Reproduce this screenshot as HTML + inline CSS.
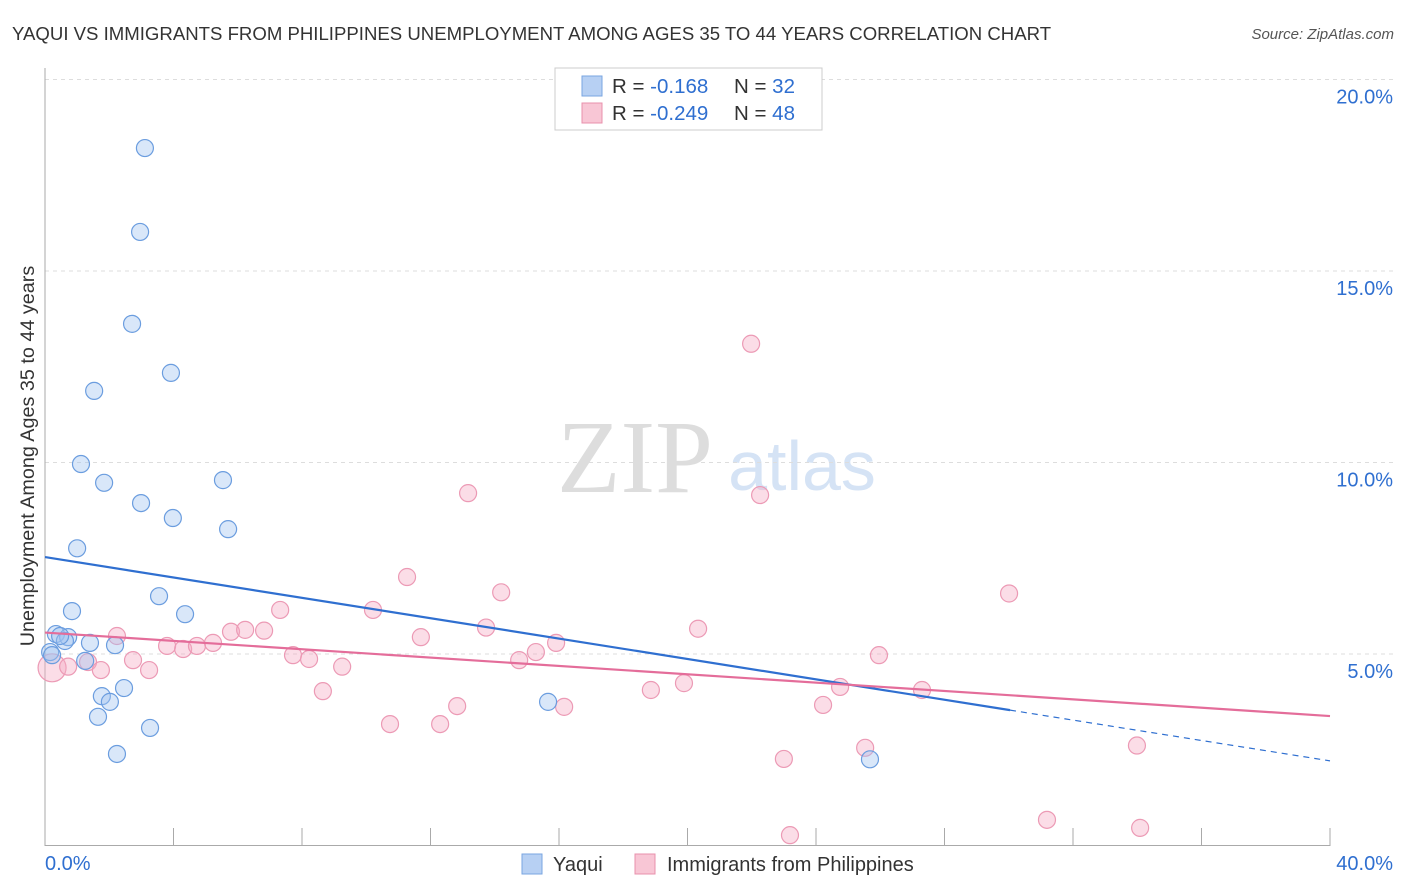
<!DOCTYPE html>
<html><head><meta charset="utf-8"><style>
body{margin:0;background:#fff;font-family:"Liberation Sans",sans-serif;}
svg{display:block}
</style></head><body>
<svg id="chart" width="1406" height="892">
<text x="12" y="40" font-size="18.6" fill="#333">YAQUI VS IMMIGRANTS FROM PHILIPPINES UNEMPLOYMENT AMONG AGES 35 TO 44 YEARS CORRELATION CHART</text>
<text x="1394" y="39" font-size="15" fill="#555" font-style="italic" text-anchor="end">Source: ZipAtlas.com</text>
<text x="635" y="492" font-size="104" fill="#ddd" font-family="Liberation Serif,serif" text-anchor="middle">ZIP</text>
<text x="802" y="490" font-size="70" fill="#d5e3f5" text-anchor="middle">atlas</text>
<text transform="translate(34,456) rotate(-90)" font-size="19.8" fill="#333" text-anchor="middle">Unemployment Among Ages 35 to 44 years</text>
<g id="grid"></g><g id="marks"></g><g id="lines"></g>
<g>
<rect x="555" y="68" width="267" height="62" fill="#fff" stroke="#ccc"/>
<rect x="582" y="76" width="20" height="20" fill="#b7d0f3" stroke="#7aa6e0"/>
<rect x="582" y="103" width="20" height="20" fill="#f8c6d5" stroke="#e890ac"/>
<text x="612" y="93" font-size="20.5" fill="#333">R = <tspan fill="#2f6fd0">-0.168</tspan></text>
<text x="734" y="93" font-size="20.5" fill="#333">N = <tspan fill="#2f6fd0">32</tspan></text>
<text x="612" y="120" font-size="20.5" fill="#333">R = <tspan fill="#2f6fd0">-0.249</tspan></text>
<text x="734" y="120" font-size="20.5" fill="#333">N = <tspan fill="#2f6fd0">48</tspan></text>
</g>
<g>
<rect x="522" y="854" width="20" height="20" fill="#b7d0f3" stroke="#7aa6e0"/>
<text x="553" y="871" font-size="20" fill="#333">Yaqui</text>
<rect x="635" y="854" width="20" height="20" fill="#f8c6d5" stroke="#e890ac"/>
<text x="667" y="871" font-size="20" fill="#333">Immigrants from Philippines</text>
</g>
</svg>
<script>
const blueX=[3.11,2.96,2.71,3.92,1.53,1.12,1.84,5.54,2.99,3.98,5.70,1.00,3.55,0.84,4.36,0.34,0.72,0.62,1.40,2.18,0.16,1.25,2.46,1.77,2.02,1.65,3.27,2.24,15.66,25.68,0.22,0.47];
const blueY=[18.21,16.02,13.62,12.34,11.87,9.96,9.47,9.54,8.94,8.55,8.26,7.76,6.51,6.12,6.04,5.52,5.44,5.34,5.29,5.23,5.05,4.82,4.11,3.90,3.75,3.36,3.07,2.39,3.75,2.25,4.97,5.47];
const pinkX=[0.22,0.72,1.34,1.74,2.24,2.74,3.24,3.80,4.30,4.73,5.23,5.79,6.23,6.82,7.32,7.72,8.22,8.65,9.25,10.21,10.74,11.27,11.70,12.30,12.83,13.17,13.73,14.20,14.76,15.28,15.91,16.16,18.86,19.89,20.33,21.98,22.26,23.00,23.19,24.22,24.75,25.53,25.96,27.30,30.01,31.19,33.99,34.09];
const pinkY=[4.64,4.67,4.79,4.58,5.47,4.84,4.58,5.21,5.13,5.21,5.29,5.58,5.63,5.61,6.15,4.97,4.87,4.03,4.67,6.15,3.17,7.01,5.44,3.17,3.64,9.20,5.69,6.61,4.84,5.05,5.29,3.62,4.06,4.24,5.66,13.10,9.15,2.26,0.27,3.67,4.14,2.55,4.97,4.06,6.58,0.67,2.61,0.46];
const yTicks=[5,10,15,20];
const yTickLabels=["5.0%","10.0%","15.0%","20.0%"];
const xTicks=[0,4,8,12,16,20,24,28,32,36,40];
const blueTrend=[7.53,2.21], blueSolidEnd=30.04;
const pinkTrend=[5.56,3.38];
const NS="http://www.w3.org/2000/svg";
const sx=v=>45+v*1285/40, sy=v=>845.5-v*38.3;
function mk(t,a,p){const e=document.createElementNS(NS,t);for(const k in a)e.setAttribute(k,a[k]);p.appendChild(e);return e;}
const grid=document.getElementById('grid'),marks=document.getElementById('marks'),lines=document.getElementById('lines');
yTicks.forEach((v,i)=>{
 const l=mk('line',{x1:45,x2:1395,y1:sy(v),y2:sy(v),stroke:'#ddd','stroke-dasharray':'4,4'},grid);
 
 
 const t=mk('text',{x:1393,y:sy(v)+24,'font-size':20,fill:'#2f6fd0','text-anchor':'end'},grid);t.textContent=yTickLabels[i];
 
 
});
const ax=mk('line',{x1:45,x2:45,y1:68,y2:846,stroke:'#aaa'},grid);


const bx=mk('line',{x1:45,x2:1330,y1:845.5,y2:845.5,stroke:'#aaa'},grid);


xTicks.forEach(v=>{const l=mk('line',{x1:sx(v),x2:sx(v),y1:828,y2:846,stroke:'#aaa'},grid);
 
 });
[[0,"0.0%",'start',45],[40,"40.0%",'end',1393]].forEach(d=>{const t=mk('text',{x:d[3],y:870,'font-size':20,fill:'#2f6fd0','text-anchor':d[2]},grid);t.textContent=d[1];
 
 });
pinkX.forEach((x,i)=>{const c=mk('circle',{cx:sx(x),cy:sy(pinkY[i]),r:i==0?14:8.5,fill:'rgba(244,170,195,0.4)',stroke:'#ec9ab5','stroke-width':1.2},marks);
 
 });
blueX.forEach((x,i)=>{const c=mk('circle',{cx:sx(x),cy:sy(blueY[i]),r:8.5,fill:'rgba(160,195,240,0.4)',stroke:'#6b9ddf','stroke-width':1.2},marks);
 
 });
const by=x=>blueTrend[0]+(blueTrend[1]-blueTrend[0])*x/40;
const b1=mk('line',{x1:sx(0),y1:sy(by(0)),x2:sx(blueSolidEnd),y2:sy(by(blueSolidEnd)),stroke:'#2f6fd0','stroke-width':2.2},lines);


const b2=mk('line',{x1:sx(blueSolidEnd),y1:sy(by(blueSolidEnd)),x2:sx(40),y2:sy(by(40)),stroke:'#2f6fd0','stroke-width':1.2,'stroke-dasharray':'6,5'},lines);


const p1=mk('line',{x1:sx(0),y1:sy(pinkTrend[0]),x2:sx(40),y2:sy(pinkTrend[1]),stroke:'#e46d9a','stroke-width':2.2},lines);


</script>
</body></html>
